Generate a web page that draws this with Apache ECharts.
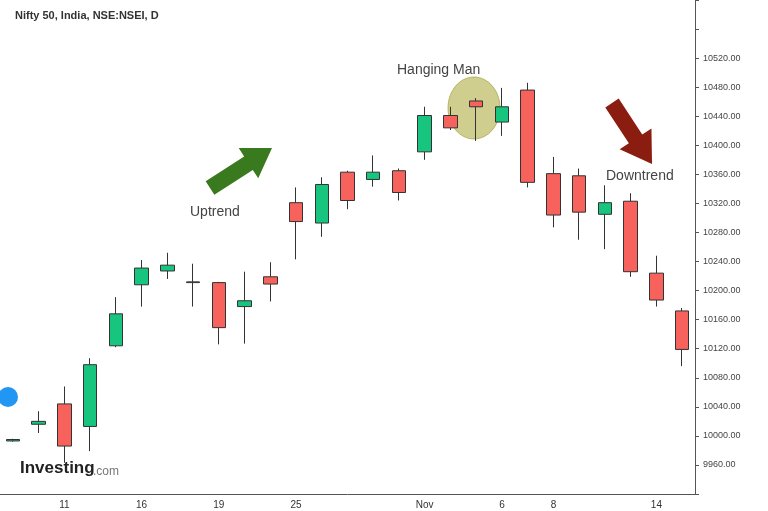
<!DOCTYPE html>
<html>
<head>
<meta charset="UTF-8">
<title>Nifty 50</title>
<script src="https://cdn.jsdelivr.net/npm/echarts@6/dist/echarts.min.js"></script>
</head>
<body style="margin:0;background:#fff;">
<div id="main" style="width:768px;height:511px;"></div>
<script>
// trading days, Oct 9 .. Nov 15
var days = ['9','10','11','12','13','16','17','18','19','23','24','25','26','27','30','31','Nov','2','3','6','7','8','9','10','13','14','15'];
var shownDays = {'11':1,'16':1,'19':1,'25':1,'Nov':1,'6':1,'14':1};
var shownIdx = [2,5,8,11,16,19,21,25];
// [open, close, low, high]
var ohlc = [
  [9993,9995,9992,9996],
  [10016,10020,10004,10034],
  [10044,9986,9963,10068],
  [10013,10098,9979,10107],
  [10124,10168,10122,10191],
  [10208,10231,10178,10242],
  [10227,10235,10216,10252],
  [10211,10212,10178,10237],
  [10211,10149,10126,10212],
  [10178,10186,10127,10226],
  [10219,10209,10185,10239],
  [10321,10295,10243,10342],
  [10293,10346,10274,10356],
  [10363,10324,10312,10365],
  [10353,10363,10343,10386],
  [10365,10335,10324,10368],
  [10391,10441,10380,10453],
  [10441,10424,10421,10453],
  [10461,10453,10406,10465],
  [10432,10453,10413,10479],
  [10476,10349,10342,10486],
  [10361,10304,10287,10384],
  [10358,10308,10270,10368],
  [10305,10321,10257,10345],
  [10323,10226,10219,10334],
  [10224,10187,10178,10248],
  [10172,10119,10096,10176]
];
var lastPrice = 10118.05;

function arrow(x1, y1, x2, y2, w, hw, hl) {
  var dx = x2 - x1, dy = y2 - y1, L = Math.sqrt(dx*dx + dy*dy);
  var ux = dx / L, uy = dy / L, nx = -uy, ny = ux;
  var bx = x2 - ux * hl, by = y2 - uy * hl;
  return [
    [x1 + nx*w/2, y1 + ny*w/2], [bx + nx*w/2, by + ny*w/2], [bx + nx*hw/2, by + ny*hw/2],
    [x2, y2],
    [bx - nx*hw/2, by - ny*hw/2], [bx - nx*w/2, by - ny*w/2], [x1 - nx*w/2, y1 - ny*w/2]
  ];
}

var chart = echarts.init(document.getElementById('main'));
chart.setOption({
  animation: false,
  grid: { left: 0, right: 73, top: -3, bottom: 17 },
  xAxis: {
    type: 'category', data: days,
    axisLine: { lineStyle: { color: '#555' } },
    axisTick: { alignWithLabel: true, interval: function (i) { return shownIdx.indexOf(i) >= 0; }, length: 4 },
    axisLabel: { color: '#333', fontSize: 10, margin: 6, interval: function (i) { return shownIdx.indexOf(i) >= 0; } },
    splitLine: { show: false }
  },
  yAxis: {
    type: 'value', position: 'right', min: 9920, max: 10600, interval: 40, scale: true,
    axisLine: { show: true, lineStyle: { color: '#555' } },
    axisTick: { show: true, length: 4 },
    splitLine: { show: false },
    axisLabel: { color: '#444', fontSize: 9, margin: 8,
      formatter: function (v) { return (v < 9960 || v > 10520) ? '' : v.toFixed(2); } }
  },
  series: [{
    type: 'candlestick', data: ohlc, barWidth: 14,
    itemStyle: { color: '#17c57f', color0: '#f7635c', borderColor: '#333', borderColor0: '#333', borderWidth: 1 },
    markLine: {
      symbol: 'none', silent: true,
      data: [{ yAxis: lastPrice }],
      lineStyle: { opacity: 0 },
      label: { position: 'end', formatter: lastPrice.toFixed(2), backgroundColor: '#3d6fe0', color: '#fff',
        fontSize: 9, padding: [2, 4], distance: 6 }
    }
  }],
  graphic: [
    { type: 'text', left: 15, top: 10, style: { text: 'Nifty 50, India, NSE:NSEI, D', fontSize: 11, fontWeight: 'bold', fill: '#333' } },
    { type: 'ellipse', shape: { cx: 474, cy: 108, rx: 26, ry: 31 }, style: { fill: 'rgba(170,165,50,0.55)', stroke: 'rgba(150,150,40,0.6)' }, z: 0 },
    { type: 'text', x: 397, y: 63, style: { text: 'Hanging Man', fontSize: 14, fill: '#444' } },
    { type: 'text', x: 190, y: 205, style: { text: 'Uptrend', fontSize: 14, fill: '#444' } },
    { type: 'text', x: 606, y: 169, style: { text: 'Downtrend', fontSize: 14, fill: '#444' } },
    { type: 'polygon', shape: { points: arrow(210, 188, 272, 148, 16, 36, 28) }, style: { fill: '#3a7a1e' } },
    { type: 'polygon', shape: { points: arrow(612, 103, 652, 164, 16, 38, 30) }, style: { fill: '#8b1c10' } },
    { type: 'circle', shape: { cx: 8, cy: 397, r: 10 }, style: { fill: '#2196f3' } },
    { type: 'text', x: 20, y: 460, style: { text: 'Investing', fontSize: 17, fontWeight: 'bold', fill: '#222' } },
    { type: 'text', x: 93, y: 466, style: { text: '.com', fontSize: 12, fill: '#777' } }
  ]
});
</script>
</body>
</html>
